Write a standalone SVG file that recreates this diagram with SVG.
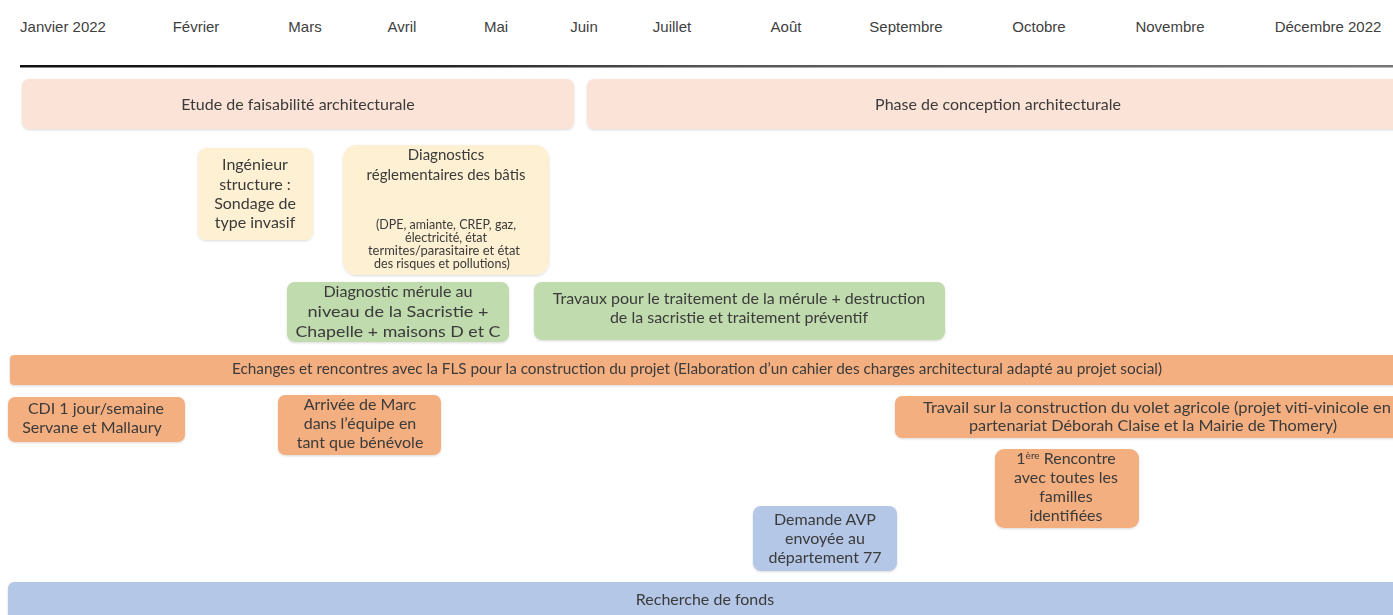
<svg xmlns="http://www.w3.org/2000/svg" width="1393" height="615" viewBox="0 0 1393 615">
<style>
.m{font-family:"Liberation Sans",Arial,sans-serif;font-size:15px;fill:#404040;text-anchor:middle}
.t{font-family:Lato,"Liberation Sans",sans-serif;font-size:16px;fill:#3a3a3a;text-anchor:middle}
.peach{fill:#FBE4D7}
.yel{fill:#FEF0D2}
.grn{fill:#C0DBAD}
.org{fill:#F4AF80}
.blu{fill:#B4C7E7}
</style>
<defs>
<linearGradient id="lg" gradientUnits="userSpaceOnUse" x1="20" y1="0" x2="1393" y2="0">
<stop offset="0" stop-color="#111"/>
<stop offset="0.3" stop-color="#222"/>
<stop offset="0.5" stop-color="#555"/>
<stop offset="1" stop-color="#777"/>
</linearGradient>
<filter id="sh" x="-5%" y="-10%" width="110%" height="130%">
<feDropShadow dx="0" dy="1" stdDeviation="1.2" flood-color="#000" flood-opacity="0.15"/>
</filter>
</defs>
<rect width="1393" height="615" fill="#fff"/>
<g id="months">
<text class="m" x="63" y="32">Janvier 2022</text>
<text class="m" x="196" y="32">Février</text>
<text class="m" x="305" y="32">Mars</text>
<text class="m" x="402" y="32">Avril</text>
<text class="m" x="496" y="32">Mai</text>
<text class="m" x="584" y="32">Juin</text>
<text class="m" x="672" y="32">Juillet</text>
<text class="m" x="786" y="32">Août</text>
<text class="m" x="906" y="32">Septembre</text>
<text class="m" x="1039" y="32">Octobre</text>
<text class="m" x="1170" y="32">Novembre</text>
<text class="m" x="1328" y="32">Décembre 2022</text>
</g>
<g id="connectors">
<rect x="20" y="65" width="1373" height="2.5" fill="url(#lg)"/>
</g>
<g id="etude" filter="url(#sh)">
<rect class="peach" x="22" y="79" width="552" height="50" rx="7"/>
<text class="t" x="298" y="110">Etude de faisabilité architecturale</text>
</g>
<g id="phase" filter="url(#sh)">
<rect class="peach" x="587" y="79" width="815" height="50" rx="7"/>
<text class="t" x="998" y="110">Phase de conception architecturale</text>
</g>
<g id="ingenieur" filter="url(#sh)">
<rect class="yel" x="198" y="148" width="115" height="92" rx="8"/>
<text class="t" x="255" y="170">Ingénieur</text>
<text class="t" x="255" y="190">structure :</text>
<text class="t" x="255" y="209">Sondage de</text>
<text class="t" x="255" y="228">type invasif</text>
</g>
<g id="diagnostics" filter="url(#sh)">
<rect class="yel" x="343" y="145" width="206" height="130" rx="14"/>
<text class="t" style="font-size:15px" x="446" y="160">Diagnostics</text>
<text class="t" style="font-size:15px" x="446" y="180">réglementaires des bâtis</text>
<text class="t" style="font-size:12.5px" x="446" y="229">(DPE, amiante, CREP, gaz,</text>
<text class="t" style="font-size:12.5px" x="446" y="242">électricité, état</text>
<text class="t" style="font-size:12.5px" x="444" y="255" textLength="152" lengthAdjust="spacingAndGlyphs">termites/parasitaire et état</text>
<text class="t" style="font-size:12.5px" x="442" y="268">des risques et pollutions)</text>
</g>
<g id="merule" filter="url(#sh)">
<rect class="grn" x="287" y="282" width="222" height="60" rx="8"/>
<text class="t" x="398" y="297" textLength="149" lengthAdjust="spacingAndGlyphs">Diagnostic mérule au</text>
<text class="t" x="398" y="317" textLength="181" lengthAdjust="spacingAndGlyphs">niveau de la Sacristie +</text>
<text class="t" x="398" y="337" textLength="205" lengthAdjust="spacingAndGlyphs">Chapelle + maisons D et C</text>
</g>
<g id="travaux" filter="url(#sh)">
<rect class="grn" x="534" y="282" width="411" height="58" rx="8"/>
<text class="t" x="739" y="304">Travaux pour le traitement de la mérule + destruction</text>
<text class="t" x="739" y="323">de la sacristie et traitement préventif</text>
</g>
<g id="echanges" filter="url(#sh)">
<rect class="org" x="10" y="355" width="1393" height="30" rx="4"/>
<text class="t" style="font-size:15px" x="697" y="374" textLength="930" lengthAdjust="spacingAndGlyphs">Echanges et rencontres avec la FLS pour la construction du projet (Elaboration d’un cahier des charges architectural adapté au projet social)</text>
</g>
<g id="cdi" filter="url(#sh)">
<rect class="org" x="8" y="397" width="177" height="45" rx="7"/>
<text class="t" x="96" y="414">CDI 1 jour/semaine</text>
<text class="t" x="92" y="433">Servane et Mallaury</text>
</g>
<g id="marc" filter="url(#sh)">
<rect class="org" x="278" y="395" width="163" height="60" rx="7"/>
<text class="t" x="360" y="410">Arrivée de Marc</text>
<text class="t" x="360" y="429">dans l’équipe en</text>
<text class="t" x="360" y="448">tant que bénévole</text>
</g>
<g id="agricole" filter="url(#sh)">
<rect class="org" x="895" y="396" width="510" height="42" rx="7"/>
<text class="t" style="font-size:15.5px" x="1157" y="413" textLength="468" lengthAdjust="spacingAndGlyphs">Travail sur la construction du volet agricole (projet viti-vinicole en</text>
<text class="t" style="font-size:15.5px" x="1153" y="431" textLength="368" lengthAdjust="spacingAndGlyphs">partenariat Déborah Claise et la Mairie de Thomery)</text>
</g>
<g id="rencontre" filter="url(#sh)">
<rect class="org" x="995" y="449" width="144" height="79" rx="9"/>
<text class="t" x="1066" y="464">1<tspan font-size="10" dy="-5">ère</tspan><tspan dy="5"> Rencontre</tspan></text>
<text class="t" x="1066" y="483">avec toutes les</text>
<text class="t" x="1066" y="502">familles</text>
<text class="t" x="1066" y="521">identifiées</text>
</g>
<g id="avp" filter="url(#sh)">
<rect class="blu" x="753" y="506" width="144" height="65" rx="8"/>
<text class="t" x="825" y="525">Demande AVP</text>
<text class="t" x="825" y="544">envoyée au</text>
<text class="t" x="825" y="563">département 77</text>
</g>
<g id="fonds" filter="url(#sh)">
<rect class="blu" x="8" y="582" width="1395" height="40" rx="6"/>
<text class="t" x="705" y="605">Recherche de fonds</text>
</g>
</svg>
